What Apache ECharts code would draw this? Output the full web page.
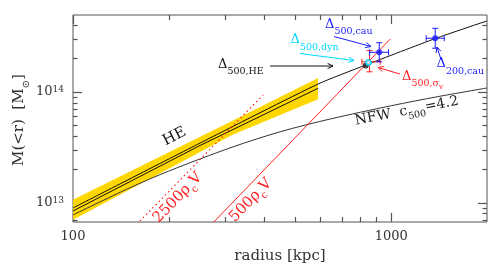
<!DOCTYPE html>
<html><head><meta charset="utf-8">
<script src="https://cdn.jsdelivr.net/npm/echarts@6/dist/echarts.min.js"></script>
<style>html,body{margin:0;padding:0;background:#fff}#c{width:491px;height:268px}</style>
</head><body><div id="c"></div>
<script>
// ---------------- data ----------------
const xRange = [100, 2000];
const yRange = [6.74e12, 4.94e14];
const xTicksMajor = [100, 1000];
const xTicksMinor = [200, 300, 400, 500, 600, 700, 800, 900];
const yTicksMajor = [1e13, 1e14];
const yTicksMinor = [7e12, 8e12, 9e12, 2e13, 3e13, 4e13, 5e13, 6e13, 7e13, 8e13, 9e13, 2e14, 3e14, 4e14];

// HE confidence band
const heBandR = [100, 200, 316, 589];
const heBandUpper = [1.07e13, 2.87e13, 5.48e13, 1.34e14];
const heBandLower = [7.08e12, 2.03e13, 4.10e13, 8.59e13];
// HE model lines
const heLineR = [100, 251, 589, 832, 1375, 2000];
const heLineM = [9.02e12, 3.47e13, 1.18e14, 1.75e14, 3.03e14, 4.37e14];
const heLine2R = [100, 251, 589];
const heLine2M = [8.47e12, 3.30e13, 1.08e14];
// NFW c500 = 4.2
const nfwR = [100, 150, 200, 316, 450, 643, 1000, 1400, 2000];
const nfwM = [7.8e12, 1.36e13, 1.94e13, 3.18e13, 4.40e13, 5.71e13, 7.52e13, 9.08e13, 1.087e14];
// 2500 rho_c V and 500 rho_c V
const rho2500R = [155, 396];
const rho2500M = [6.0e12, 9.4e13];
const rho500R = [270, 993];
const rho500M = [6.24e12, 3.0e14];
// points: [r, M, rLow, rHigh, MLow, MHigh]
const pHE = [832, 1.73e14];
const pSigma = [855, 1.87e14, 809, 923, 1.52e14, 2.36e14];
const pDyn = [848, 1.84e14];
const pCau500 = [917, 2.28e14, 855, 981, 1.87e14, 2.78e14];
const pCau200 = [1375, 3.05e14, 1288, 1468, 2.48e14, 3.75e14];

// ---------------- styles ----------------
const FF = 'DejaVu Serif';
const RED = '#ff1f1f', BLUE = '#1c1cff', CYAN = '#00d8ff', BLK = '#111', AX = '#555';

const zip = (a, b) => a.map((v, i) => [v, b[i]]);
const isPow10 = v => Math.abs(Math.log10(v) - Math.round(Math.log10(v))) < 1e-6;

function renderBand(params, api) {
  const pts = heBandR.map((r, i) => api.coord([r, heBandUpper[i]]))
    .concat(heBandR.map((r, i) => api.coord([r, heBandLower[i]])).reverse());
  return { type: 'polygon', shape: { points: pts }, style: { fill: '#ffd700', stroke: null } };
}

function renderErr(params, api) {
  const r = api.value(0), m = api.value(1), rl = api.value(2), rh = api.value(3), ml = api.value(4), mh = api.value(5);
  const L = api.coord([rl, m]), R = api.coord([rh, m]), T = api.coord([r, mh]), B = api.coord([r, ml]);
  const col = api.visual('color');
  const cap = 3;
  const ln = (x1, y1, x2, y2) => ({ type: 'line', shape: { x1, y1, x2, y2 }, style: { stroke: col, lineWidth: 1 } });
  return { type: 'group', children: [
    ln(L[0], L[1], R[0], R[1]), ln(L[0], L[1] - cap, L[0], L[1] + cap), ln(R[0], R[1] - cap, R[0], R[1] + cap),
    ln(T[0], T[1], B[0], B[1]), ln(T[0] - cap, T[1], T[0] + cap, T[1]), ln(B[0] - cap, B[1], B[0] + cap, B[1])
  ] };
}

// axes: one axis per side and tick family (major/minor), ticks inside the frame
function xAx(pos, ticks, len, labels) {
  return {
    type: 'log', logBase: 10, min: xRange[0], max: xRange[1], position: pos, offset: 0,
    axisLine: { show: false }, splitLine: { show: false }, minorTick: { show: false },
    axisTick: { show: true, inside: true, length: len, customValues: ticks, lineStyle: { color: AX, width: 1.2 } },
    axisLabel: labels ? { show: true, customValues: xTicksMajor, formatter: v => isPow10(v) ? String(Math.round(v)) : '',
      fontFamily: FF, fontSize: 13, color: '#333', margin: 8, hideOverlap: false } : { show: false }
  };
}
function yAx(pos, ticks, len, labels) {
  return {
    type: 'log', logBase: 10, min: yRange[0], max: yRange[1], position: pos, offset: 0,
    axisLine: { show: false }, splitLine: { show: false }, minorTick: { show: false },
    axisTick: { show: true, inside: true, length: len, customValues: ticks, lineStyle: { color: AX, width: 1.2 } },
    axisLabel: labels ? {
      show: true, customValues: yTicksMajor,
      formatter: v => isPow10(v) ? '{b|10}{s|' + Math.round(Math.log10(v)) + '}' : '',
      margin: 9, hideOverlap: false,
      rich: {
        b: { fontFamily: FF, fontSize: 13, lineHeight: 14, verticalAlign: 'top', color: '#333' },
        s: { fontFamily: FF, fontSize: 9, lineHeight: 9, verticalAlign: 'top', color: '#333' }
      }
    } : { show: false }
  };
}

// annotation helpers (pixel positions)
const subRich = (col) => ({
  m: { fontFamily: FF, fontSize: 13, lineHeight: 16, verticalAlign: 'top', fill: col, color: col },
  s: { fontFamily: FF, fontSize: 9.5, lineHeight: 10, padding: [9, 0, 0, 0], verticalAlign: 'top', fill: col, color: col },
  ss: { fontFamily: FF, fontSize: 7, lineHeight: 7, padding: [14, 0, 0, 0], verticalAlign: 'top', fill: col, color: col }
});
function label(x, y, text, col) {
  return { type: 'text', x, y, z: 100, silent: true,
    style: { text, rich: subRich(col), fill: col, align: 'left', textAlign: 'left', verticalAlign: 'top', textVerticalAlign: 'top' } };
}
function arrow(x1, y1, x2, y2, col) {
  const a = Math.atan2(y2 - y1, x2 - x1), h = 6, w = 0.45;
  const p1 = [x2 - h * Math.cos(a - w), y2 - h * Math.sin(a - w)];
  const p2 = [x2 - h * Math.cos(a + w), y2 - h * Math.sin(a + w)];
  return { type: 'group', z: 100, silent: true, children: [
    { type: 'line', shape: { x1, y1, x2, y2 }, style: { stroke: col, lineWidth: 1 } },
    { type: 'polyline', shape: { points: [p1, [x2, y2], p2] }, style: { stroke: col, fill: null, lineWidth: 1 } }
  ] };
}
function rotText(cx, cy, deg, text, col, size, subPad) {
  return { type: 'text', x: cx, y: cy, rotation: deg * Math.PI / 180, z: 100, silent: true,
    style: { text, fill: col, align: 'center', textAlign: 'center', verticalAlign: 'middle', textVerticalAlign: 'middle',
      rich: {
        m: { fontFamily: FF, fontSize: size, lineHeight: size + 2, verticalAlign: 'top', fill: col, color: col },
        s: { fontFamily: FF, fontSize: size * 0.68, lineHeight: 10, padding: [subPad, 0, 0, 0], verticalAlign: 'top', fill: col, color: col }
      } } };
}

const graphics = [
  { type: 'text', x: 280, y: 256, z: 100, silent: true,
    style: { text: 'radius [kpc]', fontFamily: FF, fontSize: 15, fill: '#333', align: 'center', textAlign: 'center', verticalAlign: 'middle', textVerticalAlign: 'middle' } },
  rotText(20.5, 120, 90, '{m|M(<r)  [M}{s|⊙}{m|]}', '#333', 15, 9),
  rotText(178.5, 198.5, 46, '{m|2500ρ}{s|c}{m|V}', RED, 15, 9),
  rotText(251.5, 201, 46, '{m|500ρ}{s|c}{m|V}', RED, 15, 9),
  rotText(175, 137.5, 27, '{m|HE}', BLK, 15, 9),
  rotText(407, 112, 11, '{m|NFW  c}{s|500}{m|=4.2}', '#222', 14, 8),
  label(218, 58, '{m|Δ}{s|500,HE}', BLK),
  arrow(270, 66, 333, 66, BLK),
  label(290.5, 33.5, '{m|Δ}{s|500,dyn}', CYAN),
  arrow(300, 53.5, 354, 60.5, CYAN),
  label(325, 18, '{m|Δ}{s|500,cau}', BLUE),
  arrow(334, 36.5, 371, 46.5, BLUE),
  label(402, 70, '{m|Δ}{s|500,σ}{ss|v}', RED),
  arrow(400, 74, 378, 67.5, RED),
  label(436.5, 57.5, '{m|Δ}{s|200,cau}', BLUE),
  arrow(441, 59.5, 437, 47, BLUE)
];

const chart = echarts.init(document.getElementById('c'), null, { renderer: 'canvas' });
chart.setOption({
  animation: false,
  backgroundColor: '#fff',
  grid: { left: 73, right: 4, top: 15, bottom: 46, containLabel: false, outerBoundsMode: 'none',
    show: true, borderColor: AX, borderWidth: 1 },
  xAxis: [
    xAx('bottom', xTicksMajor, 9, true),
    xAx('bottom', xTicksMinor, 5, false),
    xAx('top', xTicksMajor, 9, false),
    xAx('top', xTicksMinor, 5, false)
  ],
  yAxis: [
    yAx('left', yTicksMajor, 9, true),
    yAx('left', yTicksMinor, 4.5, false),
    yAx('right', yTicksMajor, 9, false),
    yAx('right', yTicksMinor, 4.5, false)
  ],
  graphic: graphics,
  series: [
    { type: 'custom', renderItem: renderBand, data: [[100, 1e13]], z: 1, silent: true },
    { type: 'line', data: zip(heLineR, heLineM), showSymbol: false, smooth: 0.2, lineStyle: { color: BLK, width: 1 }, z: 3, silent: true },
    { type: 'line', data: zip(heLine2R, heLine2M), showSymbol: false, lineStyle: { color: BLK, width: 1 }, z: 3, silent: true },
    { type: 'line', data: zip(nfwR, nfwM), showSymbol: false, smooth: 0.3, lineStyle: { color: '#333', width: 1 }, z: 3, silent: true },
    { type: 'line', data: zip(rho2500R, rho2500M), showSymbol: false, lineStyle: { color: RED, width: 1.2, type: [1.5, 3] }, z: 3, silent: true },
    { type: 'line', data: zip(rho500R, rho500M), showSymbol: false, lineStyle: { color: RED, width: 1 }, z: 3, silent: true },
    { type: 'custom', renderItem: renderErr, encode: { x: 0, y: 1 }, z: 4, silent: true,
      data: [ { value: pSigma, itemStyle: { color: RED } }, { value: pCau500, itemStyle: { color: BLUE } }, { value: pCau200, itemStyle: { color: BLUE } } ] },
    { type: 'scatter', data: [pHE], symbol: 'circle', symbolSize: 6, itemStyle: { color: BLK }, z: 5, silent: true },
    { type: 'scatter', data: [pDyn], symbol: 'emptyCircle', symbolSize: 5, itemStyle: { color: CYAN, borderColor: CYAN, borderWidth: 1.2 }, z: 5, silent: true },
    { type: 'scatter', data: [pCau500.slice(0, 2), pCau200.slice(0, 2)], symbol: 'circle', symbolSize: 6, itemStyle: { color: BLUE }, z: 5, silent: true }
  ]
});
</script></body></html>
